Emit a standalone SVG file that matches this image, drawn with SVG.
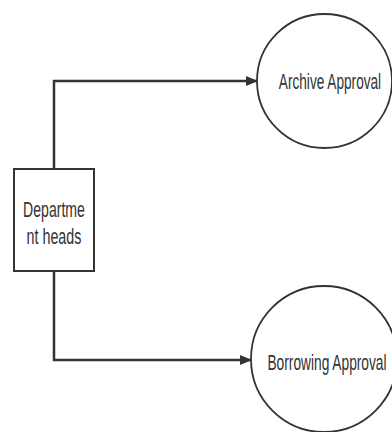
<svg xmlns="http://www.w3.org/2000/svg" width="392" height="432" viewBox="0 0 392 432">
<defs>
<marker id="arrow" markerWidth="12" markerHeight="10" refX="11" refY="5" orient="auto" markerUnits="userSpaceOnUse">
<path d="M0,0 L12,5 L0,10 Z" fill="#333"/>
</marker>
<style>
.shape{fill:#fff;stroke:#333;stroke-width:2}
.edge{fill:none;stroke:#333;stroke-width:2.5}
.lbl{font-family:"Liberation Sans","Noto Sans",sans-serif;font-size:22px;fill:#333;text-anchor:middle}
</style>
</defs>
<rect width="392" height="432" fill="#fff"/>
<g id="connectors">
<polyline class="edge" points="54,169 54,81 257,81" marker-end="url(#arrow)"/>
<polyline class="edge" points="54,271 54,360 251,360" marker-end="url(#arrow)"/>
</g>
<g id="dept">
<rect class="shape" x="14" y="169" width="80" height="102"/>
<text class="lbl" transform="translate(54,217) scale(0.64,1)">Departme</text>
<text class="lbl" transform="translate(54,244) scale(0.65,1)">nt heads</text>
</g>
<g id="archive">
<ellipse class="shape" cx="324.5" cy="81" rx="67.5" ry="67" style="stroke-width:1.8"/>
<text class="lbl" transform="translate(330,89) scale(0.62,1)">Archive Approval</text>
</g>
<g id="borrowing">
<ellipse class="shape" cx="324" cy="359" rx="73" ry="73" style="stroke-width:1.8"/>
<text class="lbl" transform="translate(327,370) scale(0.625,1)">Borrowing Approval</text>
</g>
</svg>
